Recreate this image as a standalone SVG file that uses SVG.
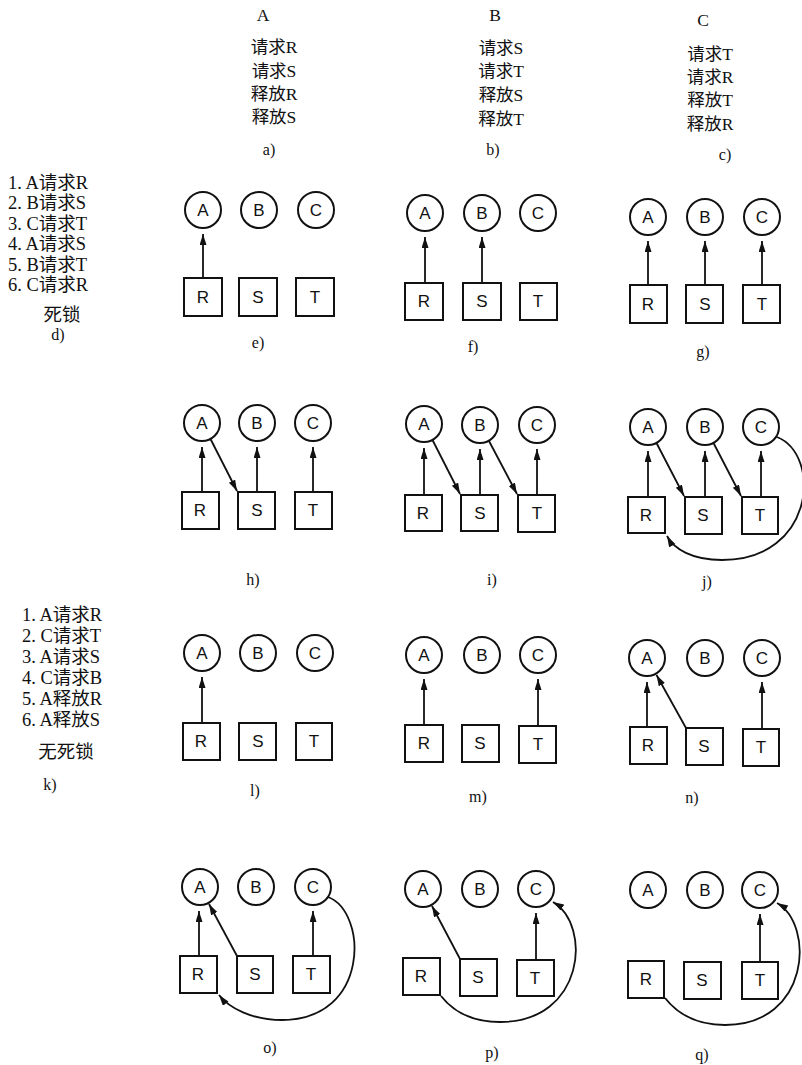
<svg xmlns="http://www.w3.org/2000/svg" width="802" height="1065" viewBox="0 0 802 1065">
<style>
.bg{fill:#fff}
.c{fill:#fff;stroke:#111;stroke-width:2}
.s{fill:#fff;stroke:#111;stroke-width:2}
.n{font-family:"Liberation Sans",Arial,sans-serif;font-size:17px;fill:#111;text-anchor:middle}
.t{font-family:"Liberation Serif","Noto Sans CJK SC",serif;font-size:17.5px;fill:#111;text-anchor:middle}
.l{font-family:"Liberation Serif","Noto Sans CJK SC",serif;font-size:18.5px;fill:#111}
.cap{font-family:"Liberation Serif",serif;font-size:16px;fill:#111;text-anchor:middle}
.e{fill:none;stroke:#111;stroke-width:1.8;marker-end:url(#ah)}
</style>
<defs>
<marker id="ah" markerUnits="userSpaceOnUse" markerWidth="12" markerHeight="8" refX="11" refY="3.5" orient="auto">
<path d="M0,0 L11,3.5 L0,7 z" fill="#111"/>
</marker>
</defs>
<rect class="bg" x="0" y="0" width="802" height="1065"/>

<g id="top-text">
<text class="t" x="263" y="21">A</text>
<text class="t" x="274" y="53">请求R</text>
<text class="t" x="274" y="77">请求S</text>
<text class="t" x="274" y="100">释放R</text>
<text class="t" x="274" y="123">释放S</text>
<text class="cap" x="269" y="155">a)</text>
<text class="t" x="495" y="21">B</text>
<text class="t" x="501" y="54">请求S</text>
<text class="t" x="501" y="77">请求T</text>
<text class="t" x="501" y="101">释放S</text>
<text class="t" x="501" y="125">释放T</text>
<text class="cap" x="493" y="155">b)</text>
<text class="t" x="703" y="26">C</text>
<text class="t" x="710" y="60">请求T</text>
<text class="t" x="710" y="83">请求R</text>
<text class="t" x="710" y="106">释放T</text>
<text class="t" x="710" y="130">释放R</text>
<text class="cap" x="725" y="160">c)</text>
</g>

<g id="d-text">
<text class="l" x="8" y="189">1. A请求R</text>
<text class="l" x="8" y="209">2. B请求S</text>
<text class="l" x="8" y="230">3. C请求T</text>
<text class="l" x="8" y="250">4. A请求S</text>
<text class="l" x="8" y="271">5. B请求T</text>
<text class="l" x="8" y="291">6. C请求R</text>
<text class="l" x="62" y="321" text-anchor="middle">死锁</text>
<text class="cap" x="58" y="340">d)</text>
</g>

<g id="k-text">
<text class="l" x="22" y="621">1. A请求R</text>
<text class="l" x="22" y="642">2. C请求T</text>
<text class="l" x="22" y="663">3. A请求S</text>
<text class="l" x="22" y="684">4. C请求B</text>
<text class="l" x="22" y="705">5. A释放R</text>
<text class="l" x="22" y="726">6. A释放S</text>
<text class="l" x="66" y="758" text-anchor="middle">无死锁</text>
<text class="cap" x="50" y="790">k)</text>
</g>

<!-- panel e -->
<g id="e">
<g id="e-A"><circle class="c" cx="203" cy="210" r="18"/><text class="n" x="203" y="216">A</text></g>
<g id="e-B"><circle class="c" cx="259" cy="210" r="18"/><text class="n" x="259" y="216">B</text></g>
<g id="e-C"><circle class="c" cx="316" cy="210" r="18"/><text class="n" x="316" y="216">C</text></g>
<g id="e-R"><rect class="s" x="184" y="278" width="38" height="38"/><text class="n" x="203" y="303">R</text></g>
<g id="e-S"><rect class="s" x="239" y="278" width="38" height="38"/><text class="n" x="258" y="303">S</text></g>
<g id="e-T"><rect class="s" x="296" y="278" width="38" height="38"/><text class="n" x="315" y="303">T</text></g>
<g id="e-edges"><path class="e" d="M203,278 V234"/></g>
<text class="cap" x="258" y="348">e)</text>
</g>

<!-- panel f -->
<g id="f">
<g id="f-A"><circle class="c" cx="425" cy="213" r="18"/><text class="n" x="425" y="219">A</text></g>
<g id="f-B"><circle class="c" cx="482" cy="213" r="18"/><text class="n" x="482" y="219">B</text></g>
<g id="f-C"><circle class="c" cx="538" cy="213" r="18"/><text class="n" x="538" y="219">C</text></g>
<g id="f-R"><rect class="s" x="405" y="283" width="38" height="37"/><text class="n" x="424" y="307">R</text></g>
<g id="f-S"><rect class="s" x="463" y="283" width="38" height="37"/><text class="n" x="482" y="307">S</text></g>
<g id="f-T"><rect class="s" x="520" y="283" width="37" height="37"/><text class="n" x="538" y="307">T</text></g>
<g id="f-edges"><path class="e" d="M425,283 V237"/><path class="e" d="M482,283 V237"/></g>
<text class="cap" x="473" y="352">f)</text>
</g>

<!-- panel g -->
<g id="g">
<g id="g-A"><circle class="c" cx="648" cy="217" r="18"/><text class="n" x="648" y="223">A</text></g>
<g id="g-B"><circle class="c" cx="705" cy="217" r="18"/><text class="n" x="705" y="223">B</text></g>
<g id="g-C"><circle class="c" cx="762" cy="217" r="18"/><text class="n" x="762" y="223">C</text></g>
<g id="g-R"><rect class="s" x="630" y="285" width="37" height="38"/><text class="n" x="648" y="310">R</text></g>
<g id="g-S"><rect class="s" x="686" y="285" width="37" height="38"/><text class="n" x="705" y="310">S</text></g>
<g id="g-T"><rect class="s" x="743" y="285" width="37" height="38"/><text class="n" x="762" y="310">T</text></g>
<g id="g-edges"><path class="e" d="M648,285 V241"/><path class="e" d="M705,285 V241"/><path class="e" d="M762,285 V241"/></g>
<text class="cap" x="703" y="357">g)</text>
</g>

<!-- panel h -->
<g id="h">
<g id="h-A"><circle class="c" cx="202" cy="423" r="18"/><text class="n" x="202" y="429">A</text></g>
<g id="h-B"><circle class="c" cx="257" cy="423" r="18"/><text class="n" x="257" y="429">B</text></g>
<g id="h-C"><circle class="c" cx="313" cy="423" r="18"/><text class="n" x="313" y="429">C</text></g>
<g id="h-R"><rect class="s" x="182" y="492" width="37" height="37"/><text class="n" x="200" y="516">R</text></g>
<g id="h-S"><rect class="s" x="238" y="492" width="37" height="37"/><text class="n" x="257" y="516">S</text></g>
<g id="h-T"><rect class="s" x="295" y="492" width="37" height="37"/><text class="n" x="313" y="516">T</text></g>
<g id="h-edges"><path class="e" d="M202,492 V447"/><path class="e" d="M257,492 V447"/><path class="e" d="M313,492 V447"/><path class="e" d="M210.5,439 L237,491"/></g>
<text class="cap" x="253" y="585">h)</text>
</g>

<!-- panel i -->
<g id="i">
<g id="i-A"><circle class="c" cx="424" cy="424" r="18"/><text class="n" x="424" y="430">A</text></g>
<g id="i-B"><circle class="c" cx="480" cy="425" r="18"/><text class="n" x="480" y="431">B</text></g>
<g id="i-C"><circle class="c" cx="537" cy="425" r="18"/><text class="n" x="537" y="431">C</text></g>
<g id="i-R"><rect class="s" x="405" y="495" width="37" height="36"/><text class="n" x="423" y="519">R</text></g>
<g id="i-S"><rect class="s" x="461" y="495" width="37" height="36"/><text class="n" x="480" y="519">S</text></g>
<g id="i-T"><rect class="s" x="518" y="495" width="37" height="37"/><text class="n" x="537" y="519">T</text></g>
<g id="i-edges"><path class="e" d="M424,495 V448"/><path class="e" d="M480,495 V449"/><path class="e" d="M537,495 V449"/><path class="e" d="M432.5,440 L460,494"/><path class="e" d="M489,441 L517,494"/></g>
<text class="cap" x="492" y="585">i)</text>
</g>

<!-- panel j -->
<g id="j">
<g id="j-A"><circle class="c" cx="648" cy="427" r="18"/><text class="n" x="648" y="433">A</text></g>
<g id="j-B"><circle class="c" cx="705" cy="427" r="18"/><text class="n" x="705" y="433">B</text></g>
<g id="j-C"><circle class="c" cx="761" cy="427" r="18"/><text class="n" x="761" y="433">C</text></g>
<g id="j-R"><rect class="s" x="628" y="497" width="37" height="36"/><text class="n" x="646" y="521">R</text></g>
<g id="j-S"><rect class="s" x="685" y="497" width="37" height="37"/><text class="n" x="703" y="521">S</text></g>
<g id="j-T"><rect class="s" x="742" y="497" width="36" height="37"/><text class="n" x="760" y="521">T</text></g>
<g id="j-edges"><path class="e" d="M648,497 V451"/><path class="e" d="M705,497 V451"/><path class="e" d="M761,497 V451"/><path class="e" d="M656.5,443 L684,496"/><path class="e" d="M713.5,443 L741,496"/><path class="e" d="M777,437 C822,455 815,560 722,560 C692,560 674,549 667,536"/></g>
<text class="cap" x="707" y="587">j)</text>
</g>

<!-- panel l -->
<g id="l">
<g id="l-A"><circle class="c" cx="202" cy="653" r="18"/><text class="n" x="202" y="659">A</text></g>
<g id="l-B"><circle class="c" cx="258" cy="653" r="18"/><text class="n" x="258" y="659">B</text></g>
<g id="l-C"><circle class="c" cx="315" cy="653" r="18"/><text class="n" x="315" y="659">C</text></g>
<g id="l-R"><rect class="s" x="183" y="723" width="37" height="37"/><text class="n" x="201" y="747">R</text></g>
<g id="l-S"><rect class="s" x="239" y="723" width="37" height="37"/><text class="n" x="258" y="747">S</text></g>
<g id="l-T"><rect class="s" x="296" y="723" width="36" height="37"/><text class="n" x="314" y="747">T</text></g>
<g id="l-edges"><path class="e" d="M202,723 V677"/></g>
<text class="cap" x="255" y="796">l)</text>
</g>

<!-- panel m -->
<g id="m">
<g id="m-A"><circle class="c" cx="424" cy="655" r="18"/><text class="n" x="424" y="661">A</text></g>
<g id="m-B"><circle class="c" cx="482" cy="655" r="18"/><text class="n" x="482" y="661">B</text></g>
<g id="m-C"><circle class="c" cx="538" cy="655" r="18"/><text class="n" x="538" y="661">C</text></g>
<g id="m-R"><rect class="s" x="405" y="725" width="38" height="37"/><text class="n" x="424" y="749">R</text></g>
<g id="m-S"><rect class="s" x="462" y="725" width="37" height="37"/><text class="n" x="480" y="749">S</text></g>
<g id="m-T"><rect class="s" x="519" y="726" width="37" height="37"/><text class="n" x="538" y="750">T</text></g>
<g id="m-edges"><path class="e" d="M424,725 V679"/><path class="e" d="M538,726 V679"/></g>
<text class="cap" x="478" y="802">m)</text>
</g>

<!-- panel n -->
<g id="n">
<g id="n-A"><circle class="c" cx="647" cy="658" r="18"/><text class="n" x="647" y="664">A</text></g>
<g id="n-B"><circle class="c" cx="705" cy="658" r="18"/><text class="n" x="705" y="664">B</text></g>
<g id="n-C"><circle class="c" cx="762" cy="658" r="18"/><text class="n" x="762" y="664">C</text></g>
<g id="n-R"><rect class="s" x="630" y="727" width="37" height="37"/><text class="n" x="648" y="751">R</text></g>
<g id="n-S"><rect class="s" x="686" y="728" width="37" height="37"/><text class="n" x="704" y="752">S</text></g>
<g id="n-T"><rect class="s" x="743" y="729" width="36" height="37"/><text class="n" x="761" y="753">T</text></g>
<g id="n-edges"><path class="e" d="M647,727 V682"/><path class="e" d="M762,729 V682"/><path class="e" d="M686,728 L656.5,675"/></g>
<text class="cap" x="692" y="803">n)</text>
</g>

<!-- panel o -->
<g id="o">
<g id="o-A"><circle class="c" cx="200" cy="887" r="18"/><text class="n" x="200" y="893">A</text></g>
<g id="o-B"><circle class="c" cx="256" cy="887" r="18"/><text class="n" x="256" y="893">B</text></g>
<g id="o-C"><circle class="c" cx="313" cy="887" r="18"/><text class="n" x="313" y="893">C</text></g>
<g id="o-R"><rect class="s" x="180" y="956" width="37" height="37"/><text class="n" x="198" y="980">R</text></g>
<g id="o-S"><rect class="s" x="237" y="956" width="36" height="37"/><text class="n" x="255" y="980">S</text></g>
<g id="o-T"><rect class="s" x="293" y="956" width="37" height="37"/><text class="n" x="311" y="980">T</text></g>
<g id="o-edges"><path class="e" d="M199,956 V911"/><path class="e" d="M313,956 V911"/><path class="e" d="M237,956 L209,904"/><path class="e" d="M328,897 C368,912 370,1020 282,1020 C252,1020 229,1008 219,995"/></g>
<text class="cap" x="270" y="1053">o)</text>
</g>

<!-- panel p -->
<g id="p">
<g id="p-A"><circle class="c" cx="423" cy="889" r="18"/><text class="n" x="423" y="895">A</text></g>
<g id="p-B"><circle class="c" cx="480" cy="889" r="18"/><text class="n" x="480" y="895">B</text></g>
<g id="p-C"><circle class="c" cx="536" cy="889" r="18"/><text class="n" x="536" y="895">C</text></g>
<g id="p-R"><rect class="s" x="403" y="958" width="37" height="37"/><text class="n" x="421" y="982">R</text></g>
<g id="p-S"><rect class="s" x="460" y="959" width="37" height="37"/><text class="n" x="478" y="983">S</text></g>
<g id="p-T"><rect class="s" x="517" y="960" width="37" height="36"/><text class="n" x="535" y="984">T</text></g>
<g id="p-edges"><path class="e" d="M536,960 V913"/><path class="e" d="M460,959 L432,906"/><path class="e" d="M441,996 C455,1014 476,1022 500,1022 C585,1022 592,925 553,902"/></g>
<text class="cap" x="492" y="1058">p)</text>
</g>

<!-- panel q -->
<g id="q">
<g id="q-A"><circle class="c" cx="648" cy="890" r="18"/><text class="n" x="648" y="896">A</text></g>
<g id="q-B"><circle class="c" cx="705" cy="890" r="18"/><text class="n" x="705" y="896">B</text></g>
<g id="q-C"><circle class="c" cx="760" cy="890" r="18"/><text class="n" x="760" y="896">C</text></g>
<g id="q-R"><rect class="s" x="628" y="961" width="36" height="37"/><text class="n" x="646" y="985">R</text></g>
<g id="q-S"><rect class="s" x="684" y="962" width="37" height="37"/><text class="n" x="702" y="986">S</text></g>
<g id="q-T"><rect class="s" x="742" y="962" width="36" height="37"/><text class="n" x="760" y="986">T</text></g>
<g id="q-edges"><path class="e" d="M760,962 V914"/><path class="e" d="M665,998 C680,1017 700,1025 725,1025 C810,1025 815,925 777,903"/></g>
<text class="cap" x="702" y="1060">q)</text>
</g>
</svg>
